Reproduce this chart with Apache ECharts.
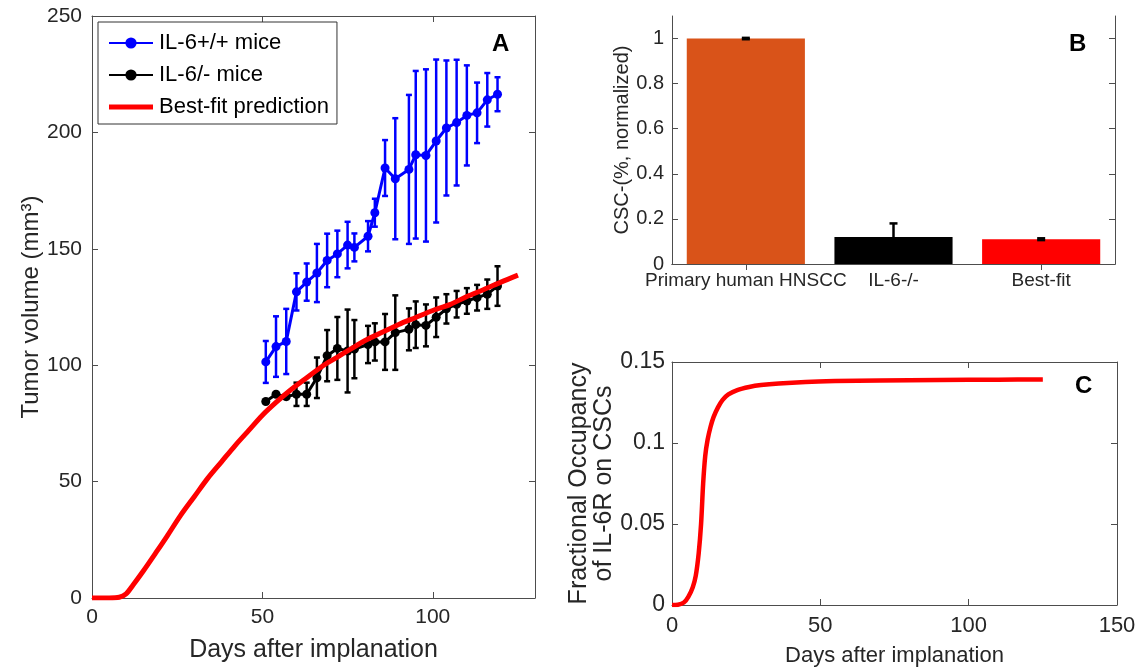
<!DOCTYPE html>
<html>
<head>
<meta charset="utf-8">
<script src="https://cdn.jsdelivr.net/npm/echarts@6/dist/echarts.min.js"></script>
<style>html,body{margin:0;padding:0;background:#fff}#c{width:1141px;height:668px}</style>
</head>
<body>
<div id="c"></div>
<script>
// ---- Panel A data ----
const days = [51, 54, 57, 60, 63, 66, 69, 72, 75, 77, 81, 83, 86, 89, 93, 95, 98, 101, 104, 107, 110, 113, 116, 119];
const wtVals = [101.4, 108, 110.2, 131.5, 135.7, 139.6, 145, 147.8, 151.6, 150.6, 155.4, 165.5, 184.7, 180.1, 184.1, 190.4, 190.1, 196.3, 201.9, 204.2, 207.3, 208.4, 214, 216.4];
const wtErr = [9, 13, 14, 8, 8, 12.5, 11.5, 10, 10, 6, 6.5, 6, 12, 26, 32, 36, 37, 35, 29, 27, 21.5, 13, 11.5, 7.3];
const koVals = [84.4, 87.5, 86.5, 87.5, 87.5, 94.6, 104.1, 107.2, 106.1, 106.9, 108.9, 110, 110, 114, 115.4, 117.4, 117.1, 120.6, 124.2, 126.2, 127.6, 129, 130.5, 134];
const koErr = [0.5, 0.5, 1, 5, 5, 8.7, 11, 13.5, 17.8, 12.5, 8, 8, 12, 16, 9, 10, 9, 8.5, 6.3, 5.7, 5.5, 5.5, 6.3, 8.5];
const fitDays = [0, 5, 8, 10, 12, 15, 19, 22, 26, 30, 34, 38, 42, 46, 50, 54, 58, 62, 68, 72, 76, 80, 85, 90, 95, 100, 105, 110, 115, 120, 125];
const fitVals = [0, 0, 0.3, 1.8, 5.5, 11.5, 20, 26.5, 35.5, 43.5, 51.5, 58.5, 65.5, 72, 78.5, 84, 89, 93.5, 100, 103.5, 107, 110.5, 114, 117.5, 120.5, 123.5, 126, 129.5, 132.5, 135.7, 138.7];
const xTicksA = [0, 50, 100];
const yTicksA = [0, 50, 100, 150, 200, 250];

// ---- Panel B data ----
const barCats = ['Primary human HNSCC', 'IL-6-/-', 'Best-fit'];
const barVals = [1, 0.12, 0.11];
const barErr = [0.003, 0.06, 0.004];
const barColors = ['#D95319', '#000000', '#FF0000'];
const yTicksB = [0, 0.2, 0.4, 0.6, 0.8, 1];

// ---- Panel C data ----
const occDays = [0, 2, 4, 5.5, 7, 8, 9, 9.8, 10.5, 11.2, 12, 13, 14, 15.5, 17, 19, 22, 26, 30, 36, 45, 55, 70, 90, 110, 125];
const occVals = [0, 0.0002, 0.0015, 0.005, 0.011, 0.018, 0.032, 0.05, 0.075, 0.092, 0.102, 0.11, 0.116, 0.122, 0.1265, 0.13, 0.1327, 0.1346, 0.1358, 0.1368, 0.1377, 0.1382, 0.1386, 0.1389, 0.1391, 0.1392];

const FONT = '"Liberation Sans", Arial, Helvetica, sans-serif';
const TXT = '#262626';
const LINE = '#4d4d4d';

function errRender(color, cap, lw) {
  return function (params, api) {
    const x = api.value(0), y = api.value(1), e = api.value(2);
    const lo = api.coord([x, y - e]);
    const hi = api.coord([x, y + e]);
    const st = { stroke: color, lineWidth: lw };
    return {
      type: 'group',
      children: [
        { type: 'line', shape: { x1: lo[0], y1: lo[1], x2: hi[0], y2: hi[1] }, style: st },
        { type: 'line', shape: { x1: lo[0] - cap, y1: lo[1], x2: lo[0] + cap, y2: lo[1] }, style: st },
        { type: 'line', shape: { x1: hi[0] - cap, y1: hi[1], x2: hi[0] + cap, y2: hi[1] }, style: st }
      ]
    };
  };
}

function valAxis(gi, pos, min, max, interval, show, fs, extra) {
  return Object.assign({
    type: 'value', gridIndex: gi, position: pos, min: min, max: max, interval: interval,
    axisLine: { show: true, onZero: false, lineStyle: { color: LINE, width: 1 } },
    axisTick: { show: true, inside: true, length: 6, lineStyle: { color: LINE } },
    axisLabel: { show: show, color: TXT, fontSize: fs, fontFamily: FONT, margin: 10 },
    splitLine: { show: false }
  }, extra || {});
}

const chart = echarts.init(document.getElementById('c'), null, { renderer: 'canvas' });

const option = {
  animation: false,
  backgroundColor: '#ffffff',
  textStyle: { fontFamily: FONT },
  grid: [
    { left: 92, top: 16, width: 443, height: 591 },
    { left: 672, top: 16, width: 443, height: 248 },
    { left: 672, top: 362, width: 445, height: 245 }
  ],
  legend: {
    left: 98, top: 22,
    orient: 'vertical',
    data: [
      { name: 'IL-6+/+ mice' },
      { name: 'IL-6/- mice' },
      { name: 'Best-fit prediction', icon: 'path://M0,0 L44,0 L44,5 L0,5 Z' }
    ],
    backgroundColor: '#fff',
    borderColor: '#333', borderWidth: 1,
    padding: [10, 8, 6, 10],
    itemWidth: 44, itemHeight: 14, itemGap: 10,
    textStyle: { fontSize: 22, color: '#000', fontFamily: FONT, padding: [0, 0, 0, 1] }
  },
  xAxis: [
    valAxis(0, 'bottom', 0, 130, 50, true, 21, {
      name: 'Days after implanation', nameLocation: 'middle', nameGap: 40,
      nameTextStyle: { fontSize: 25, color: TXT, fontFamily: FONT },
      axisLabel: { show: true, color: TXT, fontSize: 21, fontFamily: FONT, margin: 9, customValues: xTicksA },
      axisTick: { show: true, inside: true, length: 6, lineStyle: { color: LINE }, customValues: xTicksA }
    }),
    valAxis(0, 'top', 0, 130, 50, false, 21, {
      axisTick: { show: true, inside: true, length: 6, lineStyle: { color: LINE }, customValues: xTicksA }
    }),
    {
      type: 'category', gridIndex: 1, position: 'bottom', data: barCats,
      axisLine: { show: true, lineStyle: { color: LINE } },
      axisTick: { show: true, inside: true, length: 6, alignWithLabel: true, lineStyle: { color: LINE } },
      axisLabel: { color: TXT, fontSize: 19, fontFamily: FONT, margin: 7, interval: 0 }
    },
    {
      type: 'category', gridIndex: 1, position: 'top', data: barCats,
      axisLine: { show: true, lineStyle: { color: LINE } },
      axisTick: { show: true, inside: true, length: 6, alignWithLabel: true, lineStyle: { color: LINE } },
      axisLabel: { show: false }
    },
    valAxis(2, 'bottom', 0, 150, 50, true, 22, {
      name: 'Days after implanation', nameLocation: 'middle', nameGap: 40,
      nameTextStyle: { fontSize: 22, color: TXT, fontFamily: FONT }
    }),
    valAxis(2, 'top', 0, 150, 50, false, 22)
  ],
  yAxis: [
    valAxis(0, 'left', 0, 250, 50, true, 21, {
      name: 'Tumor volume (mm³)', nameLocation: 'middle', nameGap: 47,
      nameTextStyle: { fontSize: 24, color: TXT, fontFamily: FONT },
      axisLabel: { show: true, color: TXT, fontSize: 21, fontFamily: FONT, margin: 10, customValues: yTicksA }
    }),
    valAxis(0, 'right', 0, 250, 50, false, 21),
    valAxis(1, 'left', 0, 1.1, 0.2, true, 20, {
      name: 'CSC-(%, normalized)', nameLocation: 'middle', nameGap: 40,
      nameTextStyle: { fontSize: 20, color: TXT, fontFamily: FONT },
      axisLabel: { show: true, color: TXT, fontSize: 20, fontFamily: FONT, margin: 8, customValues: yTicksB },
      axisTick: { show: true, inside: true, length: 6, lineStyle: { color: LINE }, customValues: yTicksB }
    }),
    valAxis(1, 'right', 0, 1.1, 0.2, false, 20, {
      axisTick: { show: true, inside: true, length: 6, lineStyle: { color: LINE }, customValues: yTicksB }
    }),
    valAxis(2, 'left', 0, 0.15, 0.05, true, 23, {
      name: 'Fractional Occupancy\nof IL-6R on CSCs', nameLocation: 'middle', nameGap: 52,
      nameTextStyle: { fontSize: 25, color: TXT, fontFamily: FONT, lineHeight: 25 },
      axisLabel: { show: true, color: TXT, fontSize: 23, fontFamily: FONT, margin: 7 }
    }),
    valAxis(2, 'right', 0, 0.15, 0.05, false, 23)
  ],
  series: [
    {
      name: 'wtErr', type: 'custom', xAxisIndex: 0, yAxisIndex: 0, z: 2,
      renderItem: errRender('#0000FF', 3, 2.5),
      data: days.map((d, i) => [d, wtVals[i], wtErr[i]])
    },
    {
      name: 'IL-6+/+ mice', type: 'line', xAxisIndex: 0, yAxisIndex: 0, z: 3,
      data: days.map((d, i) => [d, wtVals[i]]),
      color: '#0000FF',
      lineStyle: { width: 3, color: '#0000FF' },
      symbol: 'circle', symbolSize: 9,
      itemStyle: { color: '#0000FF' }
    },
    {
      name: 'koErr', type: 'custom', xAxisIndex: 0, yAxisIndex: 0, z: 4,
      renderItem: errRender('#000000', 3, 2.5),
      data: days.map((d, i) => [d, koVals[i], koErr[i]])
    },
    {
      name: 'IL-6/- mice', type: 'line', xAxisIndex: 0, yAxisIndex: 0, z: 5,
      data: days.map((d, i) => [d, koVals[i]]),
      color: '#000000',
      lineStyle: { width: 3, color: '#000000' },
      symbol: 'circle', symbolSize: 9,
      itemStyle: { color: '#000000' }
    },
    {
      name: 'Best-fit prediction', type: 'line', xAxisIndex: 0, yAxisIndex: 0, z: 6,
      data: fitDays.map((d, i) => [d, fitVals[i]]),
      color: '#FF0000',
      smooth: 0.3,
      showSymbol: false, symbol: 'none',
      lineStyle: { width: 5, color: '#FF0000' }
    },
    {
      name: 'bars', type: 'bar', xAxisIndex: 2, yAxisIndex: 2, barWidth: '80%',
      data: barVals.map((v, i) => ({ value: v, itemStyle: { color: barColors[i] } }))
    },
    {
      name: 'barErr', type: 'custom', xAxisIndex: 2, yAxisIndex: 2, z: 5,
      renderItem: function (params, api) {
        const x = api.value(0), y = api.value(1), e = api.value(2);
        const lo = api.coord([x, y - e]);
        const hi = api.coord([x, y + e]);
        const st = { stroke: '#000', lineWidth: 2.5 };
        return {
          type: 'group', children: [
            { type: 'line', shape: { x1: lo[0], y1: lo[1], x2: hi[0], y2: hi[1] }, style: st },
            { type: 'line', shape: { x1: lo[0] - 4, y1: lo[1], x2: lo[0] + 4, y2: lo[1] }, style: st },
            { type: 'line', shape: { x1: hi[0] - 4, y1: hi[1], x2: hi[0] + 4, y2: hi[1] }, style: st }
          ]
        };
      },
      data: barVals.map((v, i) => [i, v, barErr[i]])
    },
    {
      name: 'occupancy', type: 'line', xAxisIndex: 4, yAxisIndex: 4,
      data: occDays.map((d, i) => [d, occVals[i]]),
      smooth: 0.3,
      showSymbol: false, symbol: 'none',
      lineStyle: { width: 4.5, color: '#FF0000' }
    }
  ],
  graphic: [
    { type: 'text', left: 492, top: 32, style: { text: 'A', fontSize: 24, fontWeight: 'bold', fill: '#000', fontFamily: FONT } },
    { type: 'text', left: 1069, top: 32, style: { text: 'B', fontSize: 24, fontWeight: 'bold', fill: '#000', fontFamily: FONT } },
    { type: 'text', left: 1075, top: 374, style: { text: 'C', fontSize: 24, fontWeight: 'bold', fill: '#000', fontFamily: FONT } }
  ]
};
chart.setOption(option);
</script>
</body>
</html>
